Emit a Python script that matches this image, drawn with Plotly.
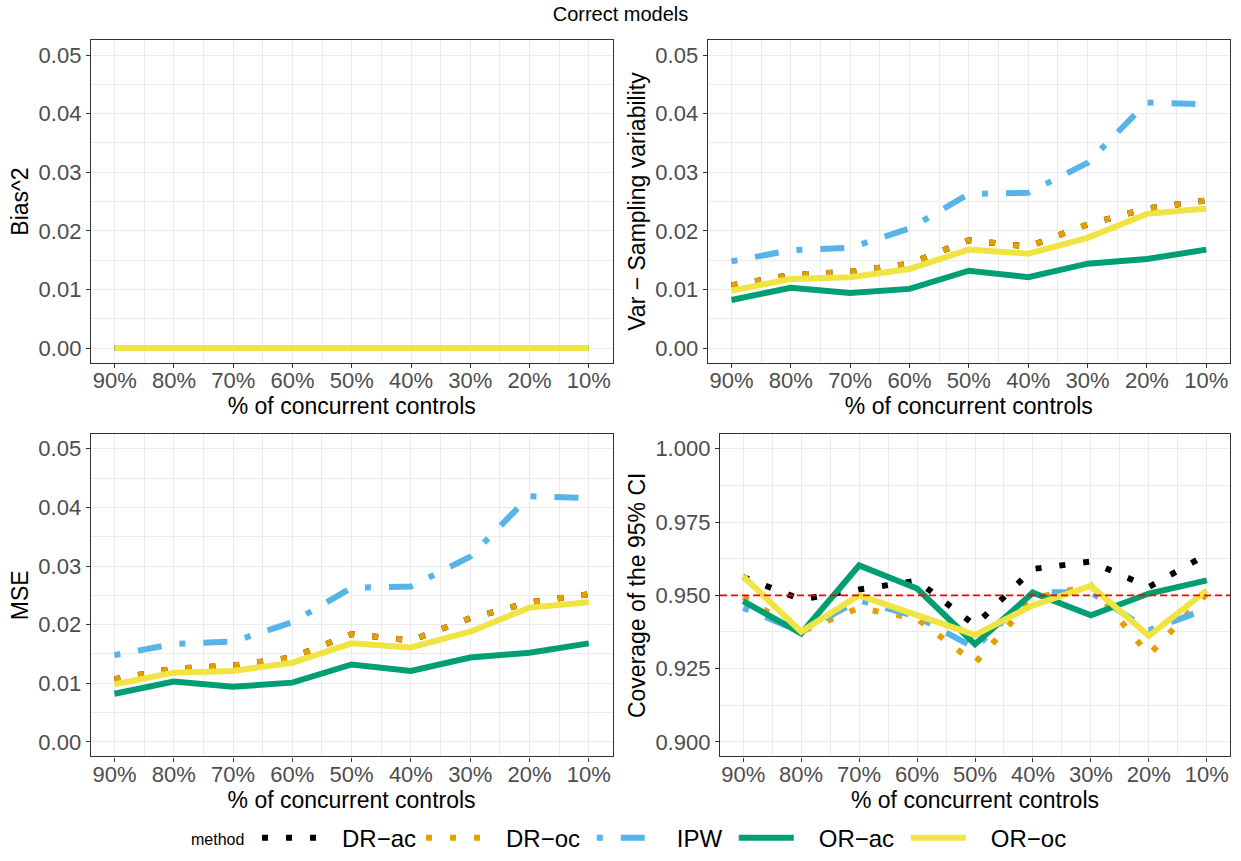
import plotly.graph_objects as go
from plotly.subplots import make_subplots

# ---------------- data ----------------
pct_labels = ["90%", "80%", "70%", "60%", "50%", "40%", "30%", "20%", "10%"]
positions = [1, 2, 3, 4, 5, 6, 7, 8, 9]
methods = ["DR\u2212ac", "DR\u2212oc", "IPW", "OR\u2212ac", "OR\u2212oc"]

bias_DR_ac = [0, 0, 0, 0, 0, 0, 0, 0, 0]
bias_DR_oc = [0, 0, 0, 0, 0, 0, 0, 0, 0]
bias_IPW = [0, 0, 0, 0, 0, 0, 0, 0, 0]
bias_OR_ac = [0, 0, 0, 0, 0, 0, 0, 0, 0]
bias_OR_oc = [0, 0, 0, 0, 0, 0, 0, 0, 0]

var_DR_ac = [0.0107, 0.0125, 0.0130, 0.0144, 0.0184, 0.0173, 0.0211, 0.0238, 0.0252]
var_DR_oc = [0.0107, 0.0125, 0.0130, 0.0144, 0.0184, 0.0173, 0.0211, 0.0238, 0.0252]
var_IPW = [0.0148, 0.0167, 0.0171, 0.0204, 0.0263, 0.0265, 0.0316, 0.0419, 0.0416]
var_OR_ac = [0.0082, 0.0103, 0.0094, 0.0101, 0.0132, 0.0121, 0.0144, 0.0152, 0.0168]
var_OR_oc = [0.0098, 0.0118, 0.0121, 0.0135, 0.0168, 0.0161, 0.0188, 0.0229, 0.0238]

mse_DR_ac = [0.0107, 0.0125, 0.0130, 0.0144, 0.0184, 0.0173, 0.0211, 0.0238, 0.0252]
mse_DR_oc = [0.0107, 0.0125, 0.0130, 0.0144, 0.0184, 0.0173, 0.0211, 0.0238, 0.0252]
mse_IPW = [0.0148, 0.0167, 0.0171, 0.0204, 0.0263, 0.0265, 0.0316, 0.0419, 0.0416]
mse_OR_ac = [0.0082, 0.0103, 0.0094, 0.0101, 0.0132, 0.0121, 0.0144, 0.0152, 0.0168]
mse_OR_oc = [0.0098, 0.0118, 0.0121, 0.0135, 0.0168, 0.0161, 0.0188, 0.0229, 0.0238]

cov_DR_ac = [0.9562, 0.9486, 0.9520, 0.9550, 0.9398, 0.9590, 0.9615, 0.9528, 0.9640]
cov_DR_oc = [0.9494, 0.9376, 0.9457, 0.9420, 0.9269, 0.9489, 0.9534, 0.9297, 0.9506]
cov_IPW = [0.9457, 0.9376, 0.9483, 0.9427, 0.9320, 0.9511, 0.9510, 0.9381, 0.9453]
cov_OR_ac = [0.9480, 0.9370, 0.9602, 0.9523, 0.9333, 0.9509, 0.9432, 0.9506, 0.9551]
cov_OR_oc = [0.9565, 0.9376, 0.9500, 0.9432, 0.9365, 0.9466, 0.9532, 0.9362, 0.9517]

nominal_coverage = 0.95

panels = [
    ("Bias^2", [bias_DR_ac, bias_DR_oc, bias_IPW, bias_OR_ac, bias_OR_oc]),
    ("Var \u2212 Sampling variability", [var_DR_ac, var_DR_oc, var_IPW, var_OR_ac, var_OR_oc]),
    ("MSE", [mse_DR_ac, mse_DR_oc, mse_IPW, mse_OR_ac, mse_OR_oc]),
    ("Coverage of the 95% CI", [cov_DR_ac, cov_DR_oc, cov_IPW, cov_OR_ac, cov_OR_oc]),
]

# ---------------- styles ----------------
colors = ["#000000", "#E69F00", "#56B4E9", "#009E73", "#F0E442"]
dashes = ["6px,18px", "6px,18px", "6px,18px,24px,18px", "solid", "solid"]
trail = [0, 1, 1, 1, 1]          # legend label right padding (nbsp count)
LW = 6
FONT = "Liberation Sans, Arial, sans-serif"
W, H = 1241, 861
NB = "\u00a0"


def fx(px):
    return px / W


def fy(py):
    return 1 - py / H


fig = make_subplots(rows=2, cols=2)

for p, (ytitle, series) in enumerate(panels):
    r, c = p // 2 + 1, p % 2 + 1
    for m, vals in enumerate(series):
        fig.add_trace(
            go.Scatter(
                x=positions, y=vals, mode="lines",
                name=NB * 3 + methods[m] + NB * trail[m],
                legendgroup=methods[m], showlegend=(p == 0),
                line=dict(color=colors[m], width=LW, dash=dashes[m]),
                hoverinfo="skip",
            ),
            row=r, col=c,
        )

fig.add_hline(y=nominal_coverage, row=2, col=2,
              line=dict(color="#FF0000", width=1.8, dash="7px,4px"))

# panel boxes in pixels (left, top, right, bottom)
boxes = [
    (91, 40.7, 612.5, 365.7),
    (707.7, 40.7, 1230, 365.7),
    (90.7, 437.7, 612.5, 762.7),
    (720, 437.7, 1230, 762.7),
]

grid = "#EBEBEB"
axis_common = dict(
    showline=True, mirror=True, linecolor="#333333", linewidth=1.3,
    ticks="outside", ticklen=4, tickwidth=1.2, tickcolor="#333333",
    showgrid=True, gridcolor=grid, gridwidth=1.4, zeroline=False,
    tickfont=dict(family=FONT, size=22, color="#4D4D4D"),
)

for p, (ytitle, series) in enumerate(panels):
    l, t, rr, b = boxes[p]
    xkey = "xaxis" if p == 0 else f"xaxis{p+1}"
    ykey = "yaxis" if p == 0 else f"yaxis{p+1}"
    fig.layout[xkey].update(
        domain=[fx(l), fx(rr)], range=[0.6, 9.4],
        tickmode="array", tickvals=positions, ticktext=pct_labels,
        ticklabelstandoff=-6,
        minor=dict(tickmode="array", tickvals=[1.5, 2.5, 3.5, 4.5, 5.5, 6.5, 7.5, 8.5],
                   showgrid=True, gridcolor=grid, gridwidth=0.8, ticks=""),
        title=dict(text="% of concurrent controls", standoff=0,
                   font=dict(family=FONT, size=23, color="#000000")),
        **axis_common,
    )
    if p == 3:
        yextra = dict(range=[0.895, 1.005], tickmode="array",
                      tickvals=[0.9, 0.925, 0.95, 0.975, 1.0], tickformat=".3f",
                      minor=dict(tickmode="array", tickvals=[0.9125, 0.9375, 0.9625, 0.9875],
                                 showgrid=True, gridcolor=grid, gridwidth=0.8, ticks=""))
    else:
        yextra = dict(range=[-0.0025, 0.0525], tickmode="array",
                      tickvals=[0, 0.01, 0.02, 0.03, 0.04, 0.05], tickformat=".2f",
                      minor=dict(tickmode="array", tickvals=[0.005, 0.015, 0.025, 0.035, 0.045],
                                 showgrid=True, gridcolor=grid, gridwidth=0.8, ticks=""))
    fig.layout[ykey].update(
        domain=[fy(b), fy(t)],
        title=dict(text=ytitle, standoff=3,
                   font=dict(family=FONT, size=23, color="#000000")),
        **yextra, **axis_common,
    )

fig.add_annotation(
    text="method", xref="paper", yref="paper", x=fx(189), y=fy(846),
    xanchor="left", yanchor="middle", showarrow=False,
    font=dict(family=FONT, size=16, color="#000000"),
)

fig.update_layout(
    width=W, height=H,
    margin=dict(l=0, r=0, t=0, b=0),
    paper_bgcolor="white", plot_bgcolor="white",
    font=dict(family=FONT, color="#000000"),
    title=dict(text="Correct models", x=0.5, xanchor="center",
               y=fy(14), yanchor="middle",
               font=dict(family=FONT, size=20, color="#000000")),
    legend=dict(
        orientation="h", x=fx(257), y=fy(845), xanchor="left", yanchor="middle",
        font=dict(family=FONT, size=24, color="#000000"),
        itemwidth=55,
        bgcolor="rgba(0,0,0,0)",
    ),
)

fig.write_html("out.html", config={"displayModeBar": False},
               post_script="document.body.style.margin='0px';")
